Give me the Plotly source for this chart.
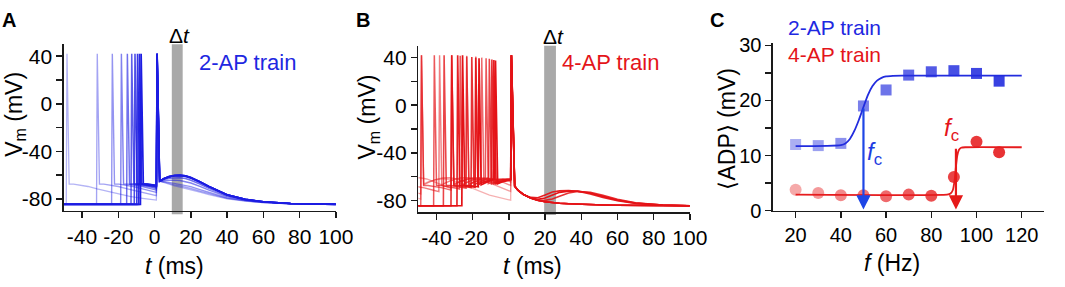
import numpy as np
import plotly.graph_objects as go

# ------------------------------------------------------------------ data
freqs = [20, 30, 40, 50, 60, 70, 80, 90, 100, 110]

# Panel C : mean ADP vs frequency
adp_2ap = [12.0, 11.8, 12.2, 19.0, 21.9, 24.6, 25.2, 25.4, 24.9, 23.5]
adp_4ap = [3.8, 3.2, 2.8, 2.8, 2.6, 2.9, 2.7, 6.1, 12.5, 10.6]
fit_2ap_f = [20, 40, 42, 44, 46, 48, 50, 52, 54, 56, 58, 60, 63, 67, 120]
fit_2ap_v = [11.7, 11.9, 12.2, 13.0, 14.5, 16.5, 18.8, 21.0, 22.6, 23.6, 24.1, 24.35, 24.45, 24.5, 24.5]
fit_4ap_f = [20, 87, 88.5, 89.5, 90.3, 90.9, 91.5, 92.2, 93.2, 95, 120]
fit_4ap_v = [2.9, 2.9, 3.1, 3.7, 5.5, 8.0, 10.0, 11.0, 11.4, 11.5, 11.5]
fc_2ap, fc_2ap_top = 50.0, 18.8
fc_4ap, fc_4ap_top = 90.9, 11.5

# Panels A/B : membrane potential traces (mV, ms)
rest_v = -84.5
final_spike_t = 1.0
final_peak = 42.0

# template after a spike (time since spike, mV), by order of the spike in the train
post1_dt = [1.6, 4, 8, 12, 17, 22, 28, 35, 42, 50, 70, 100]
post1_v = [-67.5, -67.5, -68.3, -69.5, -71.5, -73.4, -75.6, -77.8, -79.4, -81.0, -83.3, -84.5]
post2_dt = [1.6, 4, 8, 12, 16, 20, 28, 38, 50, 70, 100]
post2_v = [-67.0, -65.0, -62.5, -61.2, -61.0, -62.0, -66.5, -73.0, -79.0, -83.0, -84.5]
post3_dt = [1.6, 4, 8, 12, 16, 20, 28, 38, 50, 70, 100]
post3_v = [-66.0, -64.5, -62.8, -62.0, -62.5, -64.5, -69.5, -75.5, -80.0, -83.0, -84.5]

# A: 2-AP trains
a_spikes = [[-48.7], [-32.0], [-23.7], [-18.7], [-15.4], [-13.0], [-11.2], [-9.8], [-8.7], [-7.8]]
a_post_t = [2.8, 5, 8, 11, 14, 17, 20, 25, 30, 40, 50, 60, 75, 100]
a_post_high = [-65.0, -63.0, -61.2, -60.2, -60.0, -60.5, -62.0, -65.5, -69.5, -76.5, -80.3, -82.3, -83.8, -84.5]
a_post_low = [-65.0, -66.0, -67.8, -69.0, -70.0, -71.0, -72.2, -74.3, -76.3, -79.8, -81.8, -83.1, -84.1, -84.5]
a_adp_weight = [0.0, 0.1, 0.25, 0.55, 0.78, 0.95, 1.0, 1.0, 1.0, 0.97]

# B: 4-AP trains
b_spikes = [
    [-148.7, -98.7, -48.7],
    [-98.7, -65.4, -32.0],
    [-73.7, -48.7, -23.7],
    [-58.7, -38.7, -18.7],
    [-48.7, -32.0, -15.4],
    [-41.6, -27.3, -13.0],
    [-36.2, -23.7, -11.2],
    [-32.0, -20.9, -9.8],
    [-28.7, -18.7, -8.7],
    [-26.0, -16.9, -7.8],
]
b_peaks = [
    [42, 42, 42], [42, 42, 42], [42, 42, 41.5], [42, 42, 41], [42, 42, 40],
    [42, 41.5, 39.5], [42, 41, 39], [42, 40.5, 38.5], [42, 40, 38], [42, 39.5, 37.5],
]
b_post_t = [3.2, 5, 8, 12, 16, 20, 24, 28, 33, 38, 45, 52, 60, 70, 85, 100]
b_post_flat = [-68, -71.5, -75, -78, -80, -81.2, -81.9, -82.4, -82.8, -83.2, -83.6, -83.9, -84.1, -84.3, -84.4, -84.5]
b_post_90 = [-68, -71.5, -75, -78, -79.8, -80, -78.8, -76.5, -73.8, -72.6, -73.2, -75.8, -79, -82, -83.9, -84.5]
b_post_100 = [-68, -71.5, -75, -77.5, -77.8, -75.5, -73, -72, -71.8, -72.3, -74.5, -77.5, -80.3, -82.5, -84, -84.5]
b_post_110 = [-68, -71.5, -75, -78, -79.2, -78, -75.5, -73.2, -72.2, -72.3, -73.8, -76.8, -79.8, -82.3, -84, -84.5]
b_post = [b_post_flat] * 7 + [b_post_90, b_post_100, b_post_110]

# tick labels
t_vals = [-40, -20, 0, 20, 40, 60, 80, 100]
t_text = ["-40", "-20", "0", "20", "40", "60", "80", "100"]
v_vals = [-80, -40, 0, 40]
v_text = ["-80", "-40", "0", "40"]
v_minor = [-60, -20, 20]
f_vals = [20, 40, 60, 80, 100, 120]
adp_vals = [0, 10, 20, 30]
adp_minor = [5, 15, 25]

# ------------------------------------------------------------------ helpers
W, H = 1065, 287
FONT = "Liberation Sans, Arial, Helvetica, sans-serif"
BLUE = "rgb(28,28,226)"
RED = "rgb(228,18,22)"
trace_alpha = [0.33, 0.4, 0.47, 0.55, 0.63, 0.71, 0.79, 0.87, 0.94, 1.0]
templates = [(post1_dt, post1_v), (post2_dt, post2_v), (post3_dt, post3_v)]


def px(x):
    return x / W


def py(y):
    return 1 - y / H


def build_trace(spikes, peaks, post_t, post_v, t0=-160.0):
    ts, vs = [t0], [rest_v]
    tmpl, prev = None, None
    seq = list(zip(spikes, peaks)) + [(final_spike_t, final_peak)]
    for j, (s, pk) in enumerate(seq):
        if tmpl is None:
            onset = rest_v
        else:
            dts, vals = tmpl
            for d, val in zip(dts, vals):
                if prev + d < s - 0.05:
                    ts.append(prev + d)
                    vs.append(val)
            onset = float(np.interp(s - prev, dts, vals))
        ts.append(s)
        vs.append(onset)
        ts.append(s + 0.4)
        vs.append(pk)
        if j < len(spikes):
            tmpl = templates[min(j, len(templates) - 1)]
            prev = s
    ts.extend(post_t)
    vs.extend(post_v)
    return ts, vs


def rgba(rgb, a):
    return rgb.replace("rgb(", "rgba(").replace(")", f",{a:.2f})")


fig = go.Figure()

# Panel A traces
for i in range(len(freqs)):
    w = a_adp_weight[i]
    post_v = [lo + w * (hi - lo) for lo, hi in zip(a_post_low, a_post_high)]
    t, v = build_trace(a_spikes[i], [42.0], a_post_t, post_v)
    fig.add_trace(go.Scatter(x=t, y=v, mode="lines", xaxis="x", yaxis="y",
                             line=dict(color=rgba(BLUE, trace_alpha[i]), width=1.3 + 0.4 * (i / 9)),
                             hoverinfo="skip"))

# Panel B traces
for i in range(len(freqs)):
    t, v = build_trace(b_spikes[i], b_peaks[i], b_post_t, b_post[i])
    fig.add_trace(go.Scatter(x=t, y=v, mode="lines", xaxis="x2", yaxis="y2",
                             line=dict(color=rgba(RED, trace_alpha[i]), width=1.3 + 0.4 * (i / 9)),
                             hoverinfo="skip"))

# Panel C
C_BLUE = "rgb(34,44,222)"
C_RED = "rgb(230,28,30)"
fig.add_trace(go.Scatter(x=fit_2ap_f, y=fit_2ap_v, mode="lines", xaxis="x3", yaxis="y3",
                         line=dict(color=C_BLUE, width=1.8, shape="spline", smoothing=0.6),
                         hoverinfo="skip"))
fig.add_trace(go.Scatter(x=fit_4ap_f, y=fit_4ap_v, mode="lines", xaxis="x3", yaxis="y3",
                         line=dict(color=C_RED, width=1.8, shape="spline", smoothing=0.4),
                         hoverinfo="skip"))
marker_alpha = [0.38, 0.45, 0.52, 0.6, 0.66, 0.72, 0.78, 0.83, 0.87, 0.9]
fig.add_trace(go.Scatter(x=freqs, y=adp_2ap, mode="markers", xaxis="x3", yaxis="y3",
                         marker=dict(symbol="square", size=11,
                                     color=[rgba(C_BLUE, a) for a in marker_alpha],
                                     line=dict(width=0)), cliponaxis=False))
fig.add_trace(go.Scatter(x=freqs, y=adp_4ap, mode="markers", xaxis="x3", yaxis="y3",
                         marker=dict(symbol="circle", size=12,
                                     color=[rgba(C_RED, a) for a in marker_alpha],
                                     line=dict(width=0)), cliponaxis=False))

# ------------------------------------------------------------------ axes
axis_common = dict(showline=True, linecolor="#1a1a1a", linewidth=1.6, ticks="outside",
                   ticklen=6, tickwidth=1.5, tickcolor="#1a1a1a", showgrid=False,
                   zeroline=False, fixedrange=True)
tick_big = dict(family=FONT, size=21, color="black")
tick_c = dict(family=FONT, size=20, color="black")


def minor(vals):
    return dict(tickmode="array", tickvals=vals, ticks="outside", ticklen=6,
                tickwidth=1.5, tickcolor="#1a1a1a", showgrid=False)


fig.update_layout(
    width=W, height=H, margin=dict(l=0, r=0, t=0, b=0),
    paper_bgcolor="white", plot_bgcolor="white", showlegend=False,
    font=dict(family=FONT, color="black"),
    xaxis=dict(domain=[px(65), px(341.7)], range=[-50, 100], anchor="y",
               tickvals=t_vals, ticktext=t_text, tickfont=tick_big, **axis_common),
    yaxis=dict(domain=[py(217), py(38)], range=[-90, 50], anchor="x",
               tickvals=v_vals, ticktext=v_text, tickfont=tick_big, minor=minor(v_minor),
               **axis_common),
    xaxis2=dict(domain=[px(425.6), px(701.7)], range=[-50, 100], anchor="y2",
                tickvals=t_vals, ticktext=t_text, tickfont=tick_big, **axis_common),
    yaxis2=dict(domain=[py(218.5), py(39.5)], range=[-90, 50], anchor="x2",
                tickvals=v_vals, ticktext=v_text, tickfont=tick_big, minor=minor(v_minor),
                **axis_common),
    xaxis3=dict(domain=[px(786.3), px(1062.3)], range=[10, 130], anchor="y3",
                tickvals=f_vals, tickfont=tick_c, **axis_common),
    yaxis3=dict(domain=[py(216.7), py(36.7)], range=[0, 30.4], anchor="x3",
                tickvals=adp_vals, tickfont=tick_c, minor=minor(adp_minor), **axis_common),
)

# grey Δt windows
fig.add_shape(type="rect", xref="x", yref="paper", x0=9.5, x1=15.5,
              y0=py(220.5), y1=py(38), fillcolor="#a9a9a9", line=dict(width=0), layer="below")
fig.add_shape(type="rect", xref="x2", yref="paper", x0=19.5, x1=26.0,
              y0=py(221.5), y1=py(39.5), fillcolor="#a9a9a9", line=dict(width=0), layer="below")


def ann(text, x, y, size=20, color="black", xanchor="center", angle=0, bold=False):
    fig.add_annotation(text=f"<b>{text}</b>" if bold else text, x=px(x), y=py(y),
                       xref="paper", yref="paper", showarrow=False, xanchor=xanchor,
                       yanchor="middle", textangle=angle,
                       font=dict(family=FONT, size=size, color=color))


# panel letters
ann("A", 9, 12, size=20, bold=True)
ann("B", 369, 12, size=20, bold=True)
ann("C", 729, 12, size=20, bold=True)
# Δt labels
ann("Δ<i>t</i>", 183, 29, size=21)
ann("Δ<i>t</i>", 563, 30, size=21)
# train labels
ann("2-AP train", 200, 57, size=22, color="rgb(30,40,225)", xanchor="left")
ann("4-AP train", 570, 57, size=22, color="rgb(228,20,26)", xanchor="left")
ann("2-AP train", 800, 20, size=21, color="rgb(30,40,225)", xanchor="left")
ann("4-AP train", 800, 48.5, size=21, color="rgb(228,20,26)", xanchor="left")
# f_c labels
ann("<i>f</i><sub>c</sub>", 890, 155, size=24, color="rgb(30,60,225)")
ann("<i>f</i><sub>c</sub>", 968, 130, size=24, color="rgb(228,20,26)")
# axis titles
ann("<i>t</i> (ms)", 178, 276, size=23)
ann("<i>t</i> (ms)", 542, 276, size=23)
ann("<i>f</i> (Hz)", 907, 273, size=23)
ann("V<sub>m</sub> (mV)", 15, 113, size=23, angle=-90)
ann("V<sub>m</sub> (mV)", 375, 116, size=23, angle=-90)
ann("⟨ADP⟩ (mV)", 740, 128, size=23, angle=-90)

# f_c arrows
for xf, ytop, col in [(fc_2ap, fc_2ap_top, "rgb(30,70,230)"), (fc_4ap, fc_4ap_top, "rgb(230,25,25)")]:
    fig.add_annotation(x=xf, y=0.2, ax=xf, ay=ytop, xref="x3", yref="y3", axref="x3", ayref="y3",
                       text="", showarrow=True, arrowhead=2, arrowsize=1.3, arrowwidth=2.2,
                       arrowcolor=col)

fig.write_html(
    "out.html",
    config={"displayModeBar": False, "staticPlot": True},
    post_script="document.documentElement.style.margin='0';document.body.style.margin='0';"
                "document.body.style.padding='0';document.body.style.overflow='hidden';",
)
